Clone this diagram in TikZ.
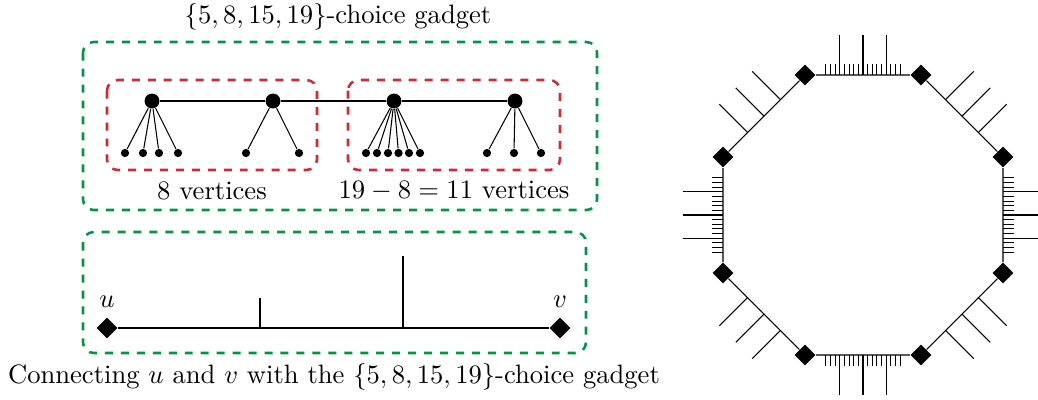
\documentclass[tikz,border=0pt]{standalone}
\usetikzlibrary{shapes.geometric,calc}
\definecolor{gboxc}{RGB}{0,150,70}
\definecolor{rboxc}{RGB}{210,40,55}
\begin{document}
\begin{tikzpicture}[x=0.376pt,y=-0.376pt,
  bigv/.style={circle,fill=black,inner sep=0pt,minimum size=5.6pt},
  smallv/.style={circle,fill=black,inner sep=0pt,minimum size=3.1pt},
  dia/.style={diamond,fill=black,inner sep=0pt,minimum size=7.9pt},
  gbox/.style={draw=gboxc,line width=0.95pt,dashed,rounded corners=4pt},
  rbox/.style={draw=rboxc,line width=0.95pt,dashed,rounded corners=4pt},
  lbl/.style={inner sep=1pt}]
\useasboundingbox (0,0) rectangle (1038,399);

% ---------- top gadget ----------
\node[lbl] (title) at (338,17) {$\{5,8,15,19\}$-choice gadget};
\draw[gbox] (83,42) rectangle (597,210);
\draw[rbox] (107,80) rectangle (317,170);
\draw[rbox] (348,80) rectangle (560,170);

\node[bigv] (b1) at (152,101) {};
\node[bigv] (b2) at (273,101) {};
\node[bigv] (b3) at (394,101) {};
\node[bigv] (b4) at (515,101) {};
\draw (b1) -- (b2) -- (b3) -- (b4);

\foreach \x [count=\i] in {125,143,159,178} {
  \node[smallv] (la\i) at (\x,153) {};
  \draw (b1) -- (la\i);
}
\foreach \x [count=\i] in {246,299} {
  \node[smallv] (lb\i) at (\x,153) {};
  \draw (b2) -- (lb\i);
}
\foreach \x [count=\i] in {366,377,388,398.5,409,420} {
  \node[smallv] (lc\i) at (\x,153) {};
  \draw (b3) -- (lc\i);
}
\foreach \x [count=\i] in {487,514,541} {
  \node[smallv] (ld\i) at (\x,153) {};
  \draw (b4) -- (ld\i);
}

\node[lbl] (l8) at (212,191) {8 vertices};
\node[lbl] (l11) at (454,191) {$19-8=11$ vertices};

% ---------- bottom gadget ----------
\draw[gbox] (83,232) rectangle (586,353);
\node[dia] (u) at (107,328) {};
\node[dia] (v) at (560,328) {};
\draw (u) -- (v);
\coordinate (t1) at (260,328);
\coordinate (t1e) at (260,297.5);
\coordinate (t2) at (403,328);
\coordinate (t2e) at (403,255.5);
\draw (t1) -- (t1e);
\draw (t2) -- (t2e);
\node[lbl] (ul) at (107,302) {$u$};
\node[lbl] (vl) at (560,302) {$v$};
\node[lbl] (cap) at (334,377) {Connecting $u$ and $v$ with the $\{5,8,15,19\}$-choice gadget};

% ---------- octagon ----------
\node[dia] (A) at (805,75) {};
\node[dia] (B) at (921,75) {};
\node[dia] (C) at (1003,157) {};
\node[dia] (D) at (1003,273) {};
\node[dia] (E) at (921,355) {};
\node[dia] (F) at (805,355) {};
\node[dia] (G) at (723,273) {};
\node[dia] (H) at (723,157) {};
\draw (A) -- (B) -- (C) -- (D) -- (E) -- (F) -- (G) -- (H) -- (A);

\foreach \p/\q in {A/B,B/C,C/D,D/E,E/F,F/G,G/H,H/A} {
  \foreach \t in {0.3,0.5,0.7} {
    \path ($(\p)!\t!(\q)$) coordinate (m);
    \draw (m) -- ($(m)!15pt!90:(\q)$);
  }
}
\foreach \p/\q in {A/B,C/D,E/F,G/H} {
  \foreach \i in {0,...,16} {
    \pgfmathsetmacro\t{0.18+0.04*\i}
    \path ($(\p)!\t!(\q)$) coordinate (m);
    \draw (m) -- ($(m)!4.1pt!90:(\q)$);
  }
}
\end{tikzpicture}
\end{document}
